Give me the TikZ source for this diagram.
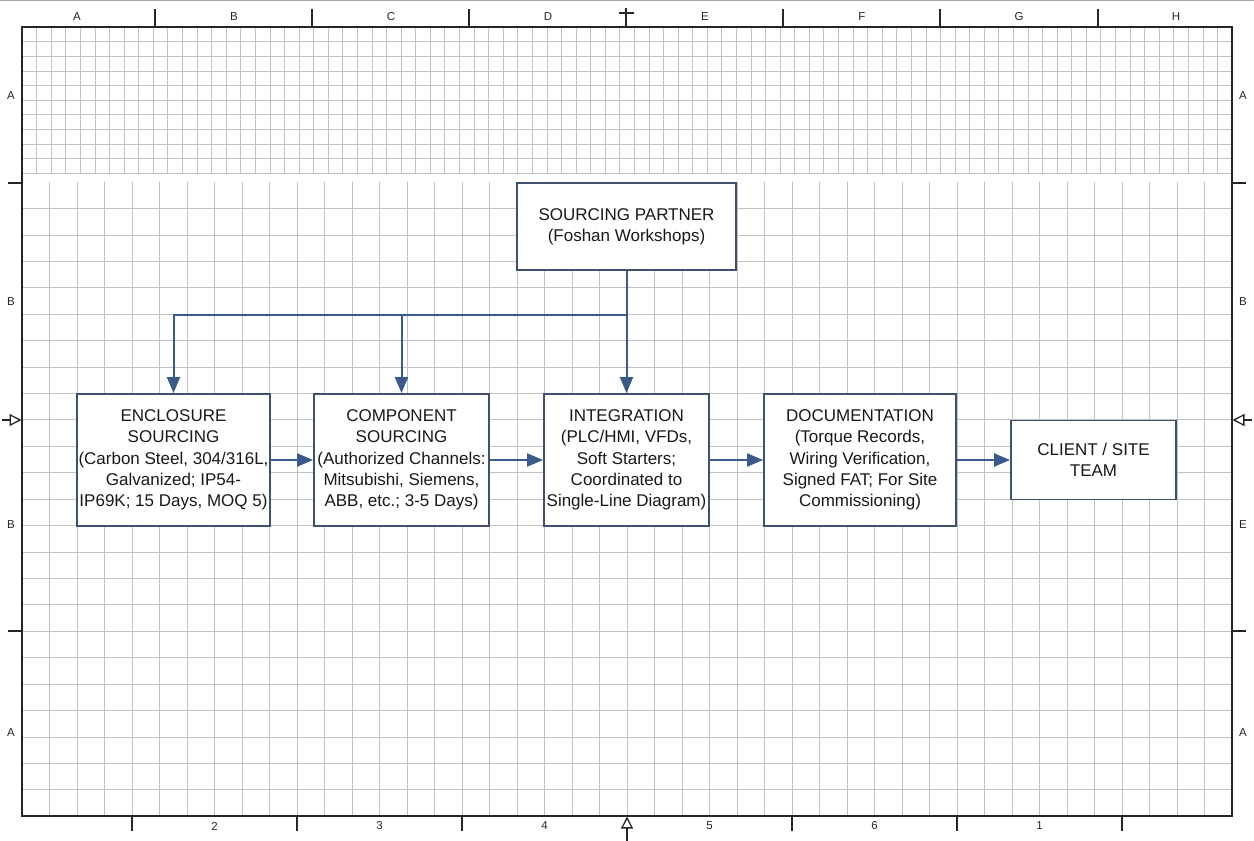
\documentclass[tikz,border=0pt]{standalone}
\usepackage{fontspec}
\setmainfont{Liberation Sans}
\usetikzlibrary{arrows.meta}
\definecolor{boxline}{HTML}{3E5170}
\definecolor{flowline}{HTML}{3B5A8C}
\definecolor{gridline}{HTML}{C2C2C2}
\tikzset{
  box/.style={draw=boxline, line width=1.8pt, fill=white, align=center, inner sep=0pt,
    font=\fontsize{17}{21.3}\selectfont, text=black!90},
  flow/.style={draw=flowline, line width=2pt, -{Triangle[length=16pt,width=13pt]}},
  frameline/.style={draw=black!85, line width=1.8pt},
  ruler/.style={font=\fontsize{11.5}{13}\selectfont, text=black!85, inner sep=0pt},
  opentip/.style={draw=black!85, line width=1.3pt, -{Triangle[open,length=12pt,width=12pt]}}
}
\begin{document}
\begin{tikzpicture}[x=1pt,y=-1pt]
\useasboundingbox (0,0) rectangle (1254,841);
\draw[black!35, line width=1pt] (0,0.5) -- (1254,0.5);

% fine grid (upper band)
\foreach \i in {1,...,82}
  \draw[gridline, line width=0.6pt] ({22+\i*14.578},27) -- ({22+\i*14.578},173.3);
\foreach \j in {1,...,10}
  \draw[gridline, line width=0.6pt] (22,{27+\j*14.63}) -- (1232,{27+\j*14.63});

% coarse grid
\foreach \i in {1,...,43}
  \draw[gridline, line width=0.6pt] ({22+\i*27.5},182) -- ({22+\i*27.5},816);
\foreach \j in {1,...,23}
  \draw[gridline, line width=0.6pt] (22,{182+\j*26.42}) -- (1232,{182+\j*26.42});

% frame, ticks, zone labels
\draw[frameline] (22,27) rectangle (1232,816);
\foreach \x in {155,312,469,783,940,1098}
  \draw[frameline] (\x,9) -- (\x,27);
\foreach \x in {132,297,462,792,957,1122}
  \draw[frameline] (\x,816) -- (\x,831);
\foreach \y in {183,631}
{
  \draw[frameline] (8,\y) -- (22,\y);
  \draw[frameline] (1232,\y) -- (1246,\y);
}
\foreach \l [count=\k] in {A,B,C,D,E,F,G,H}
  \node[ruler] (top\k) at ({77+(\k-1)*157},17) {\l};
\foreach \l [count=\k] in {2,3,4,5,6,1}
  \node[ruler] (bot\k) at ({214.5+(\k-1)*165},826) {\l};
\foreach \l/\y [count=\k] in {A/96,B/302,B/525,A/733}
  \node[ruler] (lft\k) at (11,\y) {\l};
\foreach \l/\y [count=\k] in {A/96,B/302,E/525,A/733}
  \node[ruler] (rgt\k) at (1243,\y) {\l};

% centring marks
\draw[frameline] (626,8) -- (626,27);
\draw[frameline] (619,13) -- (634,13);
\draw[opentip] (627,841) -- (627,816.5);
\draw[opentip] (2,420) -- (21.5,420);
\draw[opentip] (1252,420) -- (1232.5,420);

% blocks
\node[box, minimum width=219pt, minimum height=87pt] (SP) at (626.5,226.5)
  {SOURCING PARTNER\\(Foshan Workshops)};
\node[box, minimum width=193pt, minimum height=132pt] (ES) at (173.5,460)
  {ENCLOSURE\\SOURCING\\(Carbon Steel, 304/316L,\\Galvanized; IP54-\\IP69K; 15 Days, MOQ 5)};
\node[box, minimum width=175pt, minimum height=132pt] (CS) at (401.5,460)
  {COMPONENT\\SOURCING\\(Authorized Channels:\\Mitsubishi, Siemens,\\ABB, etc.; 3-5 Days)};
\node[box, minimum width=165pt, minimum height=132pt] (IN) at (626.5,460)
  {INTEGRATION\\(PLC/HMI, VFDs,\\Soft Starters;\\Coordinated to\\Single-Line Diagram)};
\node[box, minimum width=192pt, minimum height=132pt] (DO) at (860,460)
  {DOCUMENTATION\\(Torque Records,\\Wiring Verification,\\Signed FAT; For Site\\Commissioning)};
\node[box, minimum width=165pt, minimum height=79pt] (CL) at (1093.5,460)
  {CLIENT / SITE\\TEAM};

% connectors
\coordinate (J) at (626.5,315);
\draw[flowline, line width=2pt] (SP) -- (J);
\draw[flow] (J) -| (ES);
\draw[flow] (J) -| (CS);
\draw[flow] (J) -- (IN);
\draw[flow] (ES) -- (CS);
\draw[flow] (CS) -- (IN);
\draw[flow] (IN) -- (DO);
\draw[flow] (DO) -- (CL);
\end{tikzpicture}
\end{document}
